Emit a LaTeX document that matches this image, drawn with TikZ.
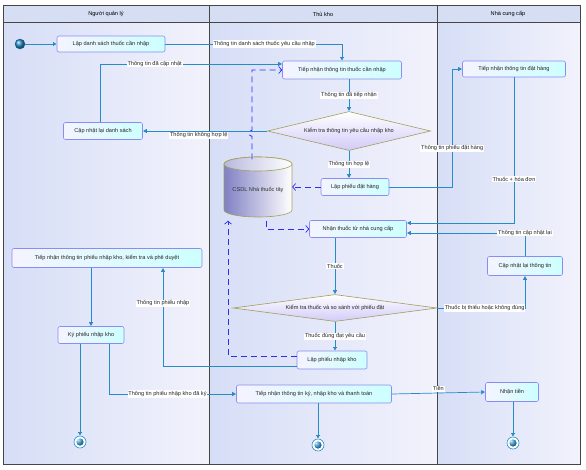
\documentclass[tikz,border=0pt]{standalone}
\usepackage{fontspec}
\setmainfont{Liberation Sans}
\usepackage{tikz}
\usetikzlibrary{calc}
\usetikzlibrary{arrows.meta,shapes.geometric}

\definecolor{flowc}{RGB}{38,140,200}
\definecolor{dashc}{RGB}{45,45,250}
\definecolor{actborder}{RGB}{140,140,240}
\definecolor{actleft}{RGB}{244,244,255}
\definecolor{actright}{RGB}{205,255,255}
\definecolor{diaborder}{RGB}{160,160,90}
\definecolor{dialow}{RGB}{210,202,248}
\definecolor{dbleft}{RGB}{128,128,196}
\definecolor{laneleft}{RGB}{214,222,246}
\definecolor{laneright}{RGB}{242,242,252}
\definecolor{headc}{RGB}{214,222,244}
\definecolor{framec}{RGB}{70,70,70}

\begin{document}
\begin{tikzpicture}[x=1pt,y=-1pt,
	font=\fontsize{5.6}{6.5}\selectfont,
	act/.style={draw=actborder, line width=0.6pt, rounded corners=2pt, left color=actleft, right color=actright, text=black!85, inner sep=1pt},
	decide/.style={diamond, draw=diaborder, line width=0.6pt, top color=white, bottom color=dialow, inner sep=0pt, text=black!85},
	dbtext/.style={minimum width=68pt, minimum height=61pt, inner sep=0pt, text=black!80},
	startnode/.style={circle, minimum size=10pt, inner sep=0pt, draw=flowc!70!black, ball color=flowc},
	endnode/.style={circle, minimum size=12pt, inner sep=0pt, draw=flowc, line width=0.6pt, fill=white,
		path picture={\shade[ball color=flowc] (path picture bounding box.center) circle (3.6pt);}},
	flow/.style={draw=flowc, line width=0.7pt, -{Bar[width=4.5pt,line width=0.6pt]Latex[length=3.5pt,width=4pt]}},
	dataflow/.style={draw=dashc, line width=0.8pt, dash pattern=on 6pt off 4pt, -{Straight Barb[length=3pt,width=7pt,line width=0.7pt]}},
	lbl/.style={fill=white, inner sep=0.8pt, text=black!85},
	lane/.style={draw=framec, line width=1pt}]

			\useasboundingbox (0,0) rectangle (586,469);

			% lanes
			\fill[left color=laneleft, right color=laneright] (3,22) rectangle (209,464);
			\fill[left color=laneleft, right color=laneright] (209,22) rectangle (437,464);
			\fill[left color=laneleft, right color=laneright] (437,22) rectangle (580,464);
			\fill[headc] (3,5) rectangle (580,22);
			\draw[lane] (3,5) rectangle (580,464);
			\draw[lane] (3,22) -- (580,22);
			\draw[lane] (209,5) -- (209,464);
			\draw[lane] (437,5) -- (437,464);

			\node (hquanly) at (106,14) {Người quản lý};
			\node (hthukho) at (323,14) {Thủ kho};
			\node (hncc) at (508,14) {Nhà cung cấp};

			% database
			\coordinate (db) at (258,187);
			\shade[left color=dbleft, right color=white, draw=diaborder, line width=0.6pt] ($(db)+(-34,-23)$) -- ($(db)+(-34,23)$) arc[start angle=180,end angle=0,x radius=34,y radius=7] -- ($(db)+(34,-23)$) arc[start angle=0,end angle=-180,x radius=34,y radius=7] -- cycle;
			\shade[left color=dbleft!55, right color=white, draw=diaborder, line width=0.6pt] ($(db)+(0,-23)$) ellipse[x radius=34,y radius=7];
			\node[dbtext] (csdl) at ($(db)+(0,3)$) {CSDL Nhà thuốc tây};

			% nodes
			\node[startnode] (start) at (20,44) {};
			\node[act, minimum width=108pt, minimum height=16pt] (lds) at (111,44) {Lập danh sách thuốc cần nhập};
			\node[act, minimum width=119pt, minimum height=18pt] (tnthuoc) at (342,70) {Tiếp nhận thông tin thuốc cần nhập};
			\node[act, minimum width=79pt, minimum height=17pt] (cnlds) at (103,131) {Cập nhật lại danh sách};
			\node[decide, minimum width=163pt, minimum height=39pt, aspect=4.2] (kt1) at (349,131) {Kiểm tra thông tin yêu cầu nhập kho};
			\node[act, minimum width=68pt, minimum height=17pt] (lpdh) at (355,187) {Lập phiếu đặt hàng};
			\node[act, minimum width=103pt, minimum height=16pt] (tndh) at (514,69) {Tiếp nhận thông tin đặt hàng};
			\node[act, minimum width=97pt, minimum height=17pt] (nhanthuoc) at (358,229) {Nhận thuốc từ nhà cung cấp};
			\node[act, minimum width=75pt, minimum height=19pt] (cntt) at (525,266) {Cập nhật lại thông tin};
			\node[decide, minimum width=204pt, minimum height=27pt, aspect=7.5] (kt2) at (335,308) {Kiểm tra thuốc và so sánh với phiếu đặt};
			\node[act, minimum width=70pt, minimum height=18pt] (lpnk) at (332,360) {Lập phiếu nhập kho};
			\node[act, minimum width=190pt, minimum height=19pt] (tnpnk) at (107,258) {Tiếp nhận thông tin phiếu nhập kho, kiểm tra và phê duyệt};
			\node[act, minimum width=66pt, minimum height=17pt] (kpnk) at (91,335) {Ký phiếu nhập kho};
			\node[act, minimum width=155pt, minimum height=18pt] (tnky) at (314,394) {Tiếp nhận thông tin ký, nhập kho và thanh toán};
			\node[act, minimum width=53pt, minimum height=19pt] (nhantien) at (512,392) {Nhận tiền};
			\node[endnode] (end1) at (80,442) {};
			\node[endnode] (end2) at (318,445) {};
			\node[endnode] (end3) at (513,443) {};

			% data flows
			\draw[dataflow] ([xshift=-6pt]csdl.north) -- ++(0,-23) arc[start angle=90,end angle=270,radius=3] |- (tnthuoc.west);
			\draw[dataflow] (lpdh.west) -- (lpdh.west -| csdl.east);
			\draw[dataflow] ([xshift=8pt]csdl.south) |- (nhanthuoc.west);
			\draw[dataflow] ([yshift=4pt]lpnk.west) -| ([xshift=-30pt]csdl.south);

			% control flows
			\draw[flow] (start) -- (lds);
			\draw[flow] (lds.east) -| node[lbl, pos=0.28] {Thông tin danh sách thuốc yêu cầu nhập} (tnthuoc.north);
			\draw[flow] ([xshift=-3pt]cnlds.north) |- node[lbl, pos=0.65] {Thông tin đã cập nhật} ([yshift=6pt]tnthuoc.west);
			\draw[flow] (tnthuoc.south -| kt1.north) -- node[lbl] {Thông tin đã tiếp nhận} (kt1.north);
			\draw[flow] (kt1.west) -- node[lbl, below=0.5pt, pos=0.55] {Thông tin không hợp lệ} (cnlds.east);
			\draw[flow] (kt1.south) -- node[lbl] {Thông tin hợp lệ} (kt1.south |- lpdh.north);
			\draw[flow] (lpdh.east) -| node[lbl, pos=0.665] {Thông tin phiếu đặt hàng} ([xshift=-10pt]tndh.west) -- (tndh.west);
			\draw[flow] (tndh.south) |- node[lbl, pos=0.35] {Thuốc + hóa đơn} ([yshift=6pt]nhanthuoc.east);
			\draw[flow] (cntt.north) |- node[lbl, pos=0.5] {Thông tin cập nhật lại} ([yshift=-4pt]nhanthuoc.east);
			\draw[flow] (kt2.north |- nhanthuoc.south) -- node[lbl] {Thuốc} (kt2.north);
			\draw[flow] (kt2.east) -| node[lbl, pos=0.27] {Thuốc bị thiếu hoặc không đúng} (cntt.south);
			\draw[flow] (kt2.south) -- node[lbl] {Thuốc đúng đạt yêu cầu} (kt2.south |- lpnk.north);
			\draw[flow] ([yshift=-6pt]lpnk.west) -| node[lbl, pos=0.82] {Thông tin phiếu nhập} ([xshift=56pt]tnpnk.south);
			\draw[flow] (tnpnk.south -| kpnk.north) -- (kpnk.north);
			\draw[flow] (end1 |- kpnk.south) -- (end1);
			\draw[flow] ([xshift=18pt]kpnk.south) |- node[lbl, pos=0.73] {Thông tin phiếu nhập kho đã ký} (tnky.west);
			\draw[flow] (tnky.east) -- node[lbl, above=1pt] {Tiền} (nhantien.west);
			\draw[flow] (end2 |- tnky.south) -- (end2);
			\draw[flow] (end3 |- nhantien.south) -- (end3);

		\end{tikzpicture}
\end{document}
